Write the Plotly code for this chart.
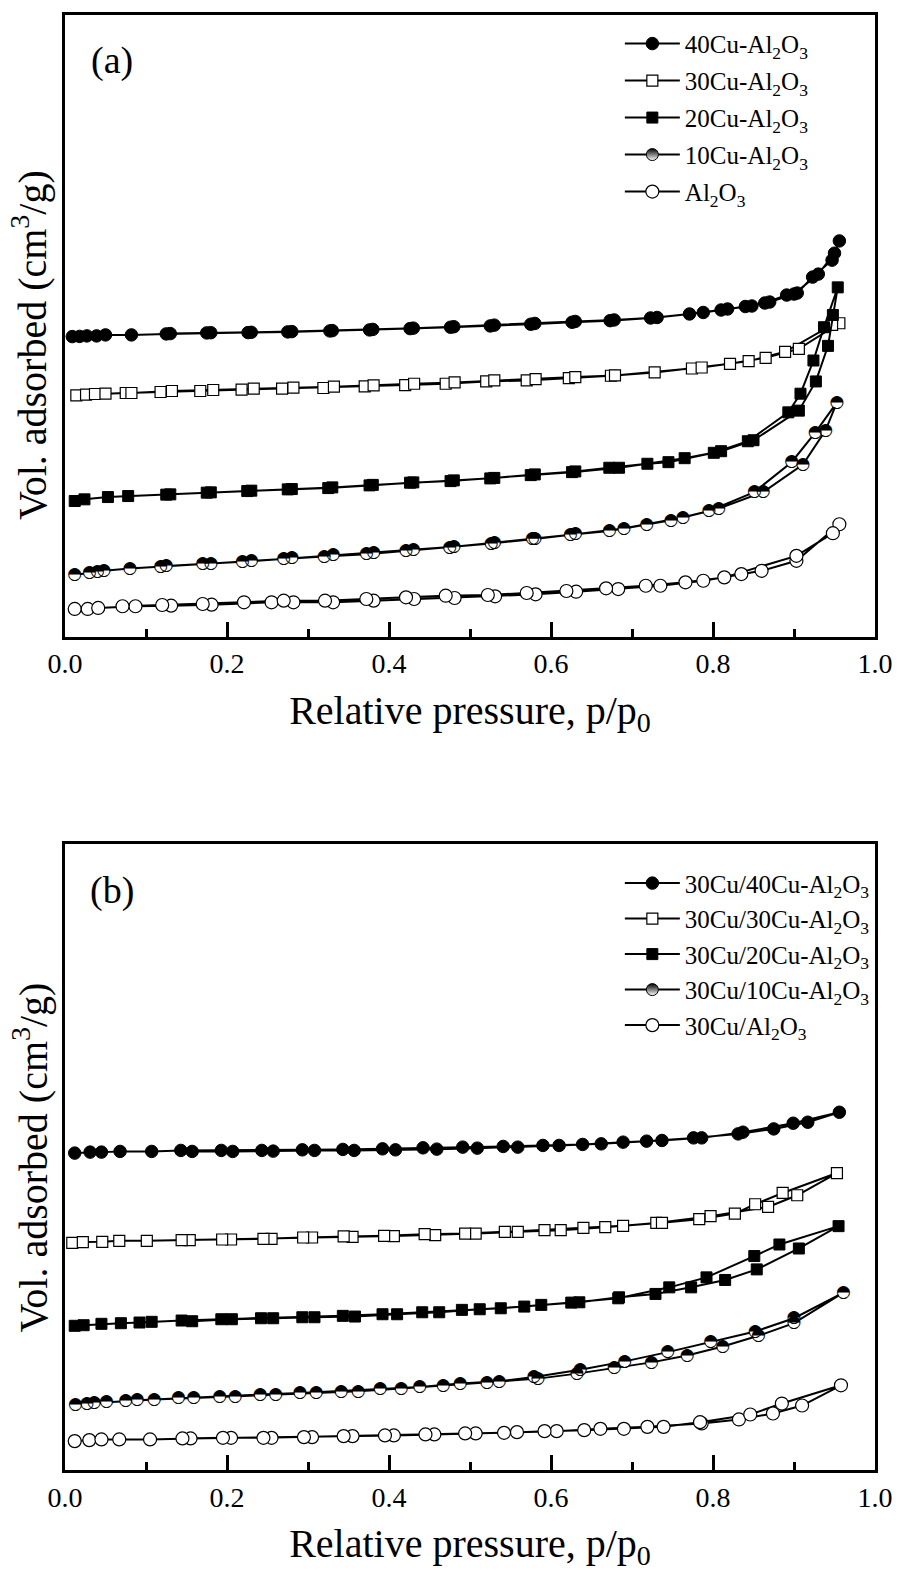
import plotly.graph_objects as go

# ---------------- Panel (a): arbitrary volume units ----------------
p_a40_ads = [0.009, 0.018, 0.027, 0.039, 0.05, 0.082, 0.125, 0.175, 0.226, 0.275, 0.327, 0.376, 0.426, 0.476,
             0.525, 0.575, 0.626, 0.673, 0.723, 0.771, 0.818, 0.848, 0.864, 0.891, 0.904, 0.923, 0.947, 0.956]
v_a40_ads = [301.3, 301.5, 302, 302, 303, 303, 304, 305, 305.3, 306, 307, 308, 309.3, 310.7,
             312, 313.7, 315.7, 317.3, 320, 324, 329, 332, 335, 343, 345, 361, 378, 397.3]
p_a40_des = [0.95, 0.93, 0.9, 0.87, 0.84, 0.81, 0.788, 0.731, 0.678, 0.63, 0.58, 0.53, 0.48, 0.43, 0.38, 0.33,
             0.28, 0.23, 0.18, 0.13]
v_a40_des = [385, 364, 344, 336, 331.5, 328, 325.5, 320.5, 318, 316.5, 314.5, 312.8, 311.2, 309.8, 308.5, 307.3,
             306.3, 305.6, 305.2, 304.3]

p_a30_ads = [0.014, 0.026, 0.037, 0.05, 0.075, 0.118, 0.167, 0.218, 0.268, 0.319, 0.37, 0.42, 0.47, 0.52, 0.57,
             0.622, 0.674, 0.728, 0.774, 0.821, 0.865, 0.906, 0.956]
v_a30_ads = [242.3, 243, 243.7, 244, 244.7, 245.7, 246.7, 248, 249, 249.7, 251.3, 252.7, 254, 256.3, 257.3,
             259.7, 262, 265.3, 269.3, 274, 280, 289, 314.7]
p_a30_des = [0.947, 0.889, 0.844, 0.786, 0.679, 0.63, 0.581, 0.53, 0.481, 0.431, 0.381, 0.332, 0.282, 0.233,
             0.183, 0.132, 0.082]
v_a30_des = [313, 286, 276.7, 270.3, 262.3, 260.7, 258.7, 257.3, 255.3, 254, 252.3, 251, 250, 249,
             247.7, 246.7, 244.7]

p_a20_ads = [0.012, 0.024, 0.053, 0.078, 0.125, 0.175, 0.225, 0.275, 0.325, 0.376, 0.426, 0.476, 0.525, 0.575,
             0.626, 0.684, 0.765, 0.81, 0.85, 0.906, 0.927, 0.942, 0.948, 0.954]
v_a20_ads = [136.3, 138, 140.3, 141.3, 142.7, 144.7, 146.3, 148, 149.3, 152, 154.7, 156.3, 159, 162.3,
             165.3, 169.7, 179.3, 186.3, 197.3, 227, 256.3, 292, 323, 350.7]
p_a20_des = [0.937, 0.924, 0.908, 0.893, 0.843, 0.801, 0.745, 0.719, 0.672, 0.63, 0.58, 0.53, 0.48, 0.43, 0.38,
             0.33, 0.28, 0.23, 0.18, 0.13]
v_a20_des = [310.7, 277.3, 244, 225.3, 196.3, 184.7, 175.3, 173.7, 169.7, 166, 163, 159.5, 157, 155, 152.5,
             150, 148.3, 146.7, 145, 143]

p_a10_ads = [0.012, 0.03, 0.04, 0.048, 0.08, 0.118, 0.17, 0.219, 0.27, 0.32, 0.372, 0.421, 0.475, 0.526, 0.577,
             0.624, 0.69, 0.748, 0.807, 0.862, 0.911, 0.939, 0.953]
v_a10_ads = [62, 64, 65.3, 66.3, 68.7, 70.7, 73, 75.3, 78, 80.7, 83, 86.3, 89.7, 93.7, 98,
             102.3, 108.7, 117, 128.7, 145.3, 173, 207.3, 235.3]
p_a10_des = [0.926, 0.897, 0.851, 0.795, 0.763, 0.718, 0.672, 0.63, 0.58, 0.53, 0.48, 0.43, 0.381, 0.331, 0.28,
             0.23, 0.18, 0.125]
v_a10_des = [204.7, 175.3, 145.3, 126.3, 119.7, 113, 106.3, 103, 98.5, 94.5, 90.5, 87.5, 84.7, 82, 79,
             76, 73.5, 71]

p_a00_ads = [0.012, 0.028, 0.041, 0.087, 0.131, 0.181, 0.255, 0.282, 0.331, 0.381, 0.431, 0.481, 0.531, 0.581,
             0.631, 0.683, 0.735, 0.788, 0.835, 0.86, 0.903, 0.956]
v_a00_ads = [28, 28, 29, 30.7, 31.3, 32.3, 34.7, 34.7, 34.7, 36.3, 38, 39, 40.7, 42.7,
             45.3, 48, 51.3, 56.3, 63, 66.3, 76.3, 113]
p_a00_des = [0.948, 0.903, 0.814, 0.766, 0.717, 0.668, 0.619, 0.57, 0.522, 0.47, 0.421, 0.372, 0.321, 0.27,
             0.221, 0.17, 0.12, 0.071]
v_a00_des = [104, 81.3, 59.7, 54.7, 51.3, 48.7, 46, 44, 42, 41.3, 39.7, 38, 36.3, 36.3,
             34.7, 33, 32, 30.7]

# ---------------- Panel (b) ----------------
p_b40_ads = [0.012, 0.031, 0.045, 0.068, 0.107, 0.143, 0.193, 0.243, 0.293, 0.343, 0.392, 0.442, 0.491, 0.541,
             0.59, 0.639, 0.689, 0.737, 0.786, 0.837, 0.899, 0.956]
v_b40_ads = [319, 320, 320, 320.7, 320.7, 321.7, 321.7, 321.7, 322.3, 322.7, 323.3, 324.3, 325, 325.7,
             326.7, 327.7, 330, 331.7, 334.3, 340, 349, 360]
p_b40_des = [0.917, 0.875, 0.831, 0.776, 0.718, 0.662, 0.61, 0.559, 0.509, 0.459, 0.408, 0.357, 0.308, 0.257,
             0.207, 0.157]
v_b40_des = [350, 343.3, 338.3, 334.3, 331, 328.3, 326.7, 325, 324, 323, 322.3, 321.7, 321.7, 321,
             320.7, 320.7]

p_b30_ads = [0.009, 0.022, 0.046, 0.067, 0.101, 0.154, 0.205, 0.255, 0.305, 0.355, 0.406, 0.457, 0.507, 0.559,
             0.612, 0.667, 0.73, 0.797, 0.868, 0.904, 0.953]
v_b30_ads = [229, 229.7, 230, 231, 231, 231.7, 232.3, 233, 234.3, 235, 235.7, 236.7, 238.3, 240,
             241.7, 244.7, 249, 255.7, 265, 276.7, 299]
p_b30_des = [0.886, 0.852, 0.827, 0.783, 0.737, 0.689, 0.64, 0.592, 0.543, 0.494, 0.444, 0.394, 0.344, 0.294,
             0.245, 0.194, 0.144]
v_b30_des = [279, 267.7, 258.3, 252.7, 249, 246, 244, 241.7, 240, 238.3, 237.7, 236, 235.5, 234.3,
             233, 232.3, 231.7]

p_b20_ads = [0.012, 0.023, 0.045, 0.069, 0.092, 0.107, 0.144, 0.193, 0.242, 0.293, 0.343, 0.392, 0.441, 0.49,
             0.538, 0.588, 0.635, 0.684, 0.729, 0.773, 0.815, 0.854, 0.906, 0.955]
v_b20_ads = [145.7, 146.3, 147.7, 148.3, 149, 149.7, 151, 152.3, 153.3, 154.3, 155.7, 157.3, 159.3, 161.7,
             163.3, 166.7, 169.3, 174.3, 177.7, 184.3, 191.7, 202.3, 223.3, 245.7]
p_b20_des = [0.882, 0.851, 0.792, 0.746, 0.683, 0.625, 0.567, 0.512, 0.462, 0.41, 0.358, 0.308, 0.257, 0.206,
             0.157]
v_b20_des = [227.3, 215.7, 194.3, 184.3, 173.3, 169, 165, 162.3, 159.3, 157.3, 155, 154.3, 153.3, 152.3,
             150.3]

p_b10_ads = [0.013, 0.027, 0.036, 0.051, 0.075, 0.11, 0.159, 0.21, 0.26, 0.31, 0.362, 0.415, 0.467, 0.521,
             0.584, 0.632, 0.678, 0.724, 0.768, 0.812, 0.856, 0.9, 0.961]
v_b10_ads = [66.7, 67.7, 68.3, 69, 70, 71.7, 73.3, 75, 76.7, 78.3, 80, 82.7, 85.7, 89,
             92.7, 97.7, 103.3, 109, 116, 125, 135.7, 148.3, 179]
p_b10_des = [0.9, 0.852, 0.797, 0.744, 0.691, 0.636, 0.579, 0.536, 0.488, 0.438, 0.389, 0.341, 0.29, 0.241,
             0.191, 0.14, 0.089]
v_b10_des = [153.3, 140, 129.3, 119.3, 110, 101.7, 94.3, 90, 87.7, 84.3, 82.3, 80, 78.3, 76.7,
             75, 73.3, 71]

p_b00_ads = [0.012, 0.03, 0.045, 0.067, 0.105, 0.155, 0.205, 0.255, 0.305, 0.355, 0.406, 0.456, 0.507, 0.558,
             0.607, 0.661, 0.719, 0.786, 0.832, 0.874, 0.91, 0.958]
v_b00_ads = [30, 31, 31.7, 31.7, 31.7, 32.7, 33.3, 33.3, 34, 35, 35.7, 36.7, 37.7, 39,
             40, 42.3, 44.3, 47.7, 51.7, 57.7, 65.7, 86]
p_b00_des = [0.885, 0.846, 0.784, 0.739, 0.69, 0.641, 0.592, 0.542, 0.494, 0.445, 0.395, 0.344, 0.295, 0.245,
             0.195, 0.145]
v_b00_des = [67.7, 56.7, 49, 44.3, 42.3, 41, 40, 38.3, 37.7, 36.7, 35.7, 35, 34, 33.3,
             33.3, 32.7]

names_a = ["40Cu-Al<sub>2</sub>O<sub>3</sub>", "30Cu-Al<sub>2</sub>O<sub>3</sub>", "20Cu-Al<sub>2</sub>O<sub>3</sub>",
           "10Cu-Al<sub>2</sub>O<sub>3</sub>", "Al<sub>2</sub>O<sub>3</sub>"]
names_b = ["30Cu/40Cu-Al<sub>2</sub>O<sub>3</sub>", "30Cu/30Cu-Al<sub>2</sub>O<sub>3</sub>",
           "30Cu/20Cu-Al<sub>2</sub>O<sub>3</sub>", "30Cu/10Cu-Al<sub>2</sub>O<sub>3</sub>",
           "30Cu/Al<sub>2</sub>O<sub>3</sub>"]
x_ticks = [0.0, 0.2, 0.4, 0.6, 0.8, 1.0]
x_ticktext = ["0.0", "0.2", "0.4", "0.6", "0.8", "1.0"]

series_a = [(p_a40_ads, v_a40_ads, p_a40_des, v_a40_des), (p_a30_ads, v_a30_ads, p_a30_des, v_a30_des),
            (p_a20_ads, v_a20_ads, p_a20_des, v_a20_des), (p_a10_ads, v_a10_ads, p_a10_des, v_a10_des),
            (p_a00_ads, v_a00_ads, p_a00_des, v_a00_des)]
series_b = [(p_b40_ads, v_b40_ads, p_b40_des, v_b40_des), (p_b30_ads, v_b30_ads, p_b30_des, v_b30_des),
            (p_b20_ads, v_b20_ads, p_b20_des, v_b20_des), (p_b10_ads, v_b10_ads, p_b10_des, v_b10_des),
            (p_b00_ads, v_b00_ads, p_b00_des, v_b00_des)]

SERIF = "Liberation Serif"
marker_styles = [
    dict(symbol="circle", size=12.5, color="black", line=dict(color="black", width=1)),
    dict(symbol="square", size=11, color="white", line=dict(color="black", width=1.2)),
    dict(symbol="square", size=11, color="black", line=dict(color="black", width=1)),
    None,  # half-filled circle (drawn with a glyph)
    dict(symbol="circle", size=13, color="white", line=dict(color="black", width=1.2)),
]
half_legend_marker = dict(symbol="circle", size=12, color="black", line=dict(color="black", width=1),
                          gradient=dict(type="vertical", color="white"))

fig = go.Figure()


def add_panel(series, names, xa, ya, legend, group_prefix):
    for i, ((pa, va, pd_, vd), nm) in enumerate(zip(series, names)):
        x = list(pa) + list(pd_)
        y = list(va) + list(vd)
        grp = f"{group_prefix}{i}"
        line = dict(color="black", width=2)
        if marker_styles[i] is not None:
            fig.add_trace(go.Scatter(x=x, y=y, name=nm, xaxis=xa, yaxis=ya, legend=legend, legendgroup=grp,
                                     mode="lines+markers", marker=marker_styles[i], line=line))
        else:
            fig.add_trace(go.Scatter(x=x, y=y, name=nm, xaxis=xa, yaxis=ya, legend=legend, legendgroup=grp,
                                     mode="lines+markers+text", text=["\u25d3"] * len(x),
                                     textposition="middle center",
                                     textfont=dict(family="DejaVu Sans", size=17, color="black"),
                                     marker=dict(symbol="circle", size=11, color="white",
                                                 line=dict(color="white", width=0)),
                                     line=line, showlegend=False))
            # legend entry only
            fig.add_trace(go.Scatter(x=[None], y=[None], name=nm, xaxis=xa, yaxis=ya, legend=legend,
                                     legendgroup=grp, mode="lines+markers", marker=half_legend_marker,
                                     line=line))


add_panel(series_a, names_a, "x", "y", "legend", "a")
add_panel(series_b, names_b, "x2", "y2", "legend2", "b")

axis_common = dict(showline=True, linewidth=3, linecolor="black", mirror=True, showgrid=False, zeroline=False)
xcommon = dict(axis_common, range=[0, 1], tickmode="array", tickvals=x_ticks, ticktext=x_ticktext,
               ticks="inside", ticklen=15, tickwidth=2.5, tickcolor="black",
               minor=dict(ticks="inside", ticklen=8, tickwidth=2.5, tickcolor="black", dtick=0.1, tick0=0),
               tickfont=dict(family=SERIF, size=28, color="black"),
               title=dict(text="Relative pressure, p/p<sub>0</sub>", font=dict(family=SERIF, size=40, color="black"),
                          standoff=18))
ycommon = dict(axis_common, showticklabels=False, ticks="")

legend_common = dict(xanchor="left", yanchor="top", bgcolor="rgba(0,0,0,0)", borderwidth=0,
                     font=dict(family=SERIF, size=25, color="black"), itemwidth=55)

ytitle = "Vol. adsorbed (cm<sup>3</sup>/g)"
fig.update_layout(
    width=905, height=1571,
    margin=dict(l=65, r=24, t=14, b=97),
    paper_bgcolor="white", plot_bgcolor="white",
    showlegend=True,
    xaxis=dict(xcommon, anchor="y"),
    yaxis=dict(ycommon, anchor="x", domain=[0.5726, 1.0], range=[0, 624]),
    xaxis2=dict(xcommon, anchor="y2"),
    yaxis2=dict(ycommon, anchor="x2", domain=[0.0, 0.4301], range=[1, 629]),
    legend=dict(legend_common, x=0.685, y=0.996, tracegroupgap=1.5),
    legend2=dict(legend_common, x=0.685, y=0.419, tracegroupgap=0),
    annotations=[
        dict(text="(a)", x=0.0576, y=0.9685, xref="paper", yref="paper", showarrow=False,
             xanchor="center", yanchor="middle", font=dict(family=SERIF, size=38, color="black")),
        dict(text="(b)", x=0.0576, y=0.3986, xref="paper", yref="paper", showarrow=False,
             xanchor="center", yanchor="middle", font=dict(family=SERIF, size=38, color="black")),
        dict(text=ytitle, x=-0.0429, y=0.7733, xref="paper", yref="paper", showarrow=False, textangle=-90,
             xanchor="center", yanchor="middle", font=dict(family=SERIF, size=40, color="black")),
        dict(text=ytitle, x=-0.0429, y=0.215, xref="paper", yref="paper", showarrow=False, textangle=-90,
             xanchor="center", yanchor="middle", font=dict(family=SERIF, size=40, color="black")),
    ],
)

fig.write_html("out.html")
